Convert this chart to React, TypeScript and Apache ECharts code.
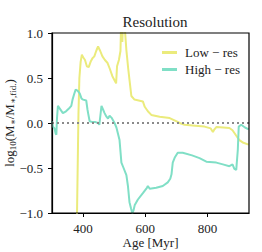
import React, { useEffect, useRef } from "react";
import * as echarts from "echarts";

const title = "Resolution";
const xName = "Age [Myr]";
const xTicks = [400, 600, 800];
const seriesNames = ["Low − res", "High − res"];

const lowResAge = [380, 385, 388, 392, 396, 400, 406, 412, 418, 424, 430, 436, 442, 448, 455, 462, 470, 478, 486, 494, 500, 506, 509, 515, 520, 522, 526, 528, 533, 539, 545, 549, 555, 565, 592, 598, 608, 619, 646, 678, 699, 710, 726, 760, 790, 810, 817, 822, 828, 850, 870, 880, 890, 902, 915, 932];
const lowResVal = [-1.1, 0.1, 0.5, 0.68, 0.76, 0.73, 0.7, 0.63, 0.62, 0.68, 0.72, 0.74, 0.8, 0.85, 0.8, 0.74, 0.7, 0.67, 0.6, 0.52, 0.48, 0.44, 0.63, 0.7, 0.8, 1.1, 0.9, 1.1, 1.1, 0.81, 0.6, 0.48, 0.3, 0.26, 0.24, 0.18, 0.13, 0.09, 0.07, 0.055, 0.02, 0.0, -0.02, -0.03, -0.04, -0.06, -0.1, -0.07, -0.045, -0.05, -0.055, -0.08, -0.13, -0.19, -0.22, -0.24];

const highResAge = [300, 303, 308, 312, 314, 316, 319, 325, 335, 345, 357, 362, 366, 372, 376, 382, 389, 395, 400, 410, 414, 416, 421, 430, 440, 448, 452, 456, 459, 464, 469, 475, 480, 485, 491, 496, 501, 507, 512, 517, 523, 530, 539, 544, 549, 554, 558, 562, 566, 576, 592, 605, 608, 614, 635, 656, 672, 680, 684, 688, 695, 704, 720, 750, 774, 796, 828, 849, 870, 880, 886, 892, 897, 900, 908, 920, 932];
const highResVal = [0.02, -0.04, -0.06, -0.12, -0.13, 0.05, 0.19, 0.16, 0.11, 0.13, 0.17, 0.19, 0.26, 0.33, 0.37, 0.36, 0.33, 0.27, 0.26, 0.25, 0.15, 0.11, 0.02, 0.01, 0.01, 0.0, -0.02, 0.1, 0.19, 0.15, 0.11, 0.07, 0.05, 0.08, 0.06, 0.03, 0.0, -0.05, -0.12, -0.19, -0.44, -0.5, -0.58, -0.7, -0.88, -0.95, -1.0, -0.97, -0.91, -0.85, -0.78, -0.72, -0.7, -0.73, -0.72, -0.7, -0.66, -0.62, -0.57, -0.44, -0.38, -0.33, -0.33, -0.36, -0.39, -0.43, -0.44, -0.46, -0.48, -0.46, -0.51, -0.52, -0.3, -0.04, -0.02, -0.05, -0.07];

const colors = ["#ebeb7c", "#80dfc6"];
const font = "'Liberation Serif', 'DejaVu Serif', serif";

const fmt = (v: number) => (v < 0 ? "−" : "") + Math.abs(v).toFixed(1);

export default function App() {
  const ref = useRef<HTMLDivElement>(null);
  useEffect(() => {
    if (!ref.current) return;
    const chart = echarts.init(ref.current, null, { renderer: "svg" });
    const low = lowResAge.map((a, i) => [a, lowResVal[i]]);
    const high = highResAge.map((a, i) => [a, highResVal[i]]);
    chart.setOption({
      animation: false,
      backgroundColor: "#ffffff",
      title: {
        text: title,
        left: 150,
        textAlign: "center",
        top: 9,
        textStyle: { fontFamily: font, fontSize: 15, fontWeight: "normal", color: "#222" },
      },
      legend: {
        orient: "vertical",
        left: 157,
        top: 41,
        itemGap: 4,
        itemWidth: 15,
        itemHeight: 3,
        icon: "rect",
        textStyle: { fontFamily: font, fontSize: 13, color: "#222", padding: [0, 0, 0, 3] },
        data: seriesNames,
      },
      grid: { left: 52, right: 13, top: 33, bottom: 39, outerBoundsMode: "none", containLabel: false },
      xAxis: {
        type: "value",
        min: 300,
        max: 933,
        name: xName,
        nameLocation: "middle",
        nameGap: 23,
        nameMoveOverlap: false,
        nameTextStyle: { fontFamily: font, fontSize: 13, color: "#222" },
        axisLine: { show: true, onZero: false, lineStyle: { color: "#000", width: 1.2 } },
        axisTick: { show: true, length: 4, customValues: xTicks, lineStyle: { color: "#000" } },
        axisLabel: { customValues: xTicks, fontFamily: font, fontSize: 13, color: "#222", margin: 9 },
        splitLine: { show: false },
      },
      yAxis: {
        type: "value",
        min: -1,
        max: 1,
        interval: 0.5,
        name: "{a|log}{s|10}{a|(M}{s|∗}{a|/M}{s|∗,fid.}{a|)}",
        nameLocation: "middle",
        nameGap: 35,
        nameMoveOverlap: false,
        nameTextStyle: {
          rich: {
            a: { fontFamily: font, fontSize: 13, color: "#222" },
            s: { fontFamily: font, fontSize: 9, color: "#222", verticalAlign: "bottom", padding: [6, 0, 0, 0] },
          },
        },
        axisLine: { show: true, lineStyle: { color: "#000", width: 1.2 } },
        axisTick: { show: true, length: 4, lineStyle: { color: "#000" } },
        axisLabel: { formatter: fmt, fontFamily: font, fontSize: 13, color: "#222", margin: 9 },
        splitLine: { show: false },
      },
      graphic: [
        {
          type: "rect",
          shape: { x: 52, y: 33, width: 197, height: 180 },
          style: { fill: "none", stroke: "#000", lineWidth: 1.2 },
          silent: true,
          z: 10,
        },
      ],
      series: [
        {
          name: seriesNames[0],
          type: "line",
          data: low,
          showSymbol: false,
          color: colors[0],
          lineStyle: { width: 2, color: colors[0] },
          clip: true,
          z: 2,
          markLine: {
            silent: true,
            symbol: "none",
            label: { show: false },
            lineStyle: { type: [2, 3], color: "#8a8a8a", width: 2 },
            data: [{ yAxis: 0 }],
          },
        },
        {
          name: seriesNames[1],
          type: "line",
          data: high,
          showSymbol: false,
          color: colors[1],
          lineStyle: { width: 2, color: colors[1] },
          clip: true,
          z: 3,
        },
      ],
    });
    return () => chart.dispose();
  }, []);
  return <div ref={ref} style={{ position: "fixed", left: 0, top: 0, width: 262, height: 252 }} />;
}
